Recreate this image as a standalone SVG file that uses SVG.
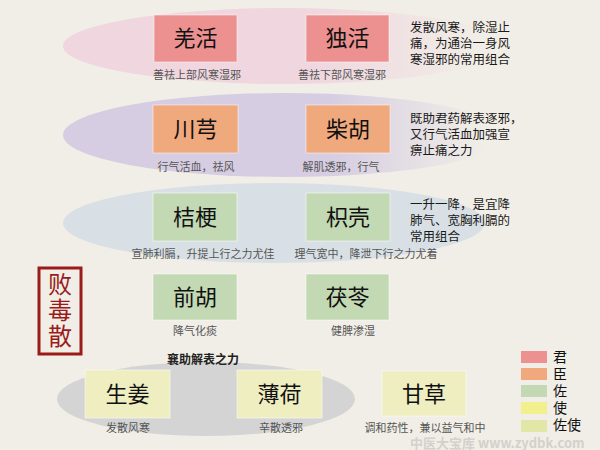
<svg xmlns="http://www.w3.org/2000/svg" width="600" height="450" viewBox="0 0 600 450">
<defs>
<linearGradient id="gPink" x1="0" y1="0" x2="1" y2="0">
<stop offset="0" stop-color="#efd6df"/>
<stop offset="0.55" stop-color="#efd6df"/>
<stop offset="0.95" stop-color="#efd6df" stop-opacity="0"/>
</linearGradient>
<linearGradient id="gLav" x1="0" y1="0" x2="1" y2="0">
<stop offset="0" stop-color="#d6cde2"/>
<stop offset="0.6" stop-color="#d6cde2"/>
<stop offset="0.95" stop-color="#d6cde2" stop-opacity="0"/>
</linearGradient>
<style>
.box{stroke:#ffffff;stroke-opacity:0.5;stroke-width:1}
.jun{fill:#ec9090}
.chen{fill:#f0a97c}
.zuo{fill:#c2d9b4}
.shi{fill:#f2f08c}
.zs{fill:#eeeec0}
.lbl{font-family:"Noto Sans CJK SC",sans-serif;font-size:22px;fill:#111;text-anchor:middle}
.sub{font-family:"Noto Sans CJK SC",sans-serif;font-size:11px;fill:#555;text-anchor:middle}
.desc{font-family:"Noto Sans CJK SC",sans-serif;font-size:12.5px;fill:#1a1a1a}
.leg{font-family:"Noto Sans CJK SC",sans-serif;font-size:14px;fill:#111}
</style>
</defs>
<rect width="600" height="450" fill="#f1eee7"/>
<g id="bands">
<ellipse cx="285" cy="46" rx="222" ry="38" fill="url(#gPink)"/>
<ellipse cx="285" cy="135" rx="222" ry="42" fill="url(#gLav)"/>
<ellipse cx="274" cy="223" rx="211" ry="40" fill="#d8e0e5"/>
<ellipse cx="206" cy="399" rx="149" ry="37" fill="#d4d4d4"/>
</g>
<g id="connectors"></g>
<g id="n-qianghuo"><rect class="box jun" x="154" y="15" width="83" height="47"/><text class="lbl" x="195.5" y="46">羌活</text><text class="sub" x="197" y="79">善祛上部风寒湿邪</text></g>
<g id="n-duhuo"><rect class="box jun" x="306" y="15" width="83" height="47"/><text class="lbl" x="347.5" y="46">独活</text><text class="sub" x="342" y="79">善祛下部风寒湿邪</text></g>
<g id="d1"><text class="desc"><tspan x="410" y="32">发散风寒，除湿止</tspan><tspan x="410" y="48">痛，为通治一身风</tspan><tspan x="410" y="64">寒湿邪的常用组合</tspan></text></g>
<g id="n-chuanxiong"><rect class="box chen" x="153" y="105" width="85" height="48"/><text class="lbl" x="195.5" y="137">川芎</text><text class="sub" x="196" y="171">行气活血，祛风</text></g>
<g id="n-chaihu"><rect class="box chen" x="306" y="105" width="84" height="48"/><text class="lbl" x="348" y="137">柴胡</text><text class="sub" x="341" y="171">解肌透邪，行气</text></g>
<g id="d2"><text class="desc"><tspan x="410" y="123">既助君药解表逐邪，</tspan><tspan x="410" y="139">又行气活血加强宣</tspan><tspan x="410" y="155">痹止痛之力</tspan></text></g>
<g id="n-jiegeng"><rect class="box zuo" x="153" y="193" width="84" height="48"/><text class="lbl" x="195" y="225">桔梗</text><text class="sub" x="203" y="258">宣肺利膈，升提上行之力尤佳</text></g>
<g id="n-zhiqiao"><rect class="box zuo" x="306" y="193" width="84" height="48"/><text class="lbl" x="348" y="225">枳壳</text><text class="sub" x="366" y="258">理气宽中，降泄下行之力尤着</text></g>
<g id="d3"><text class="desc"><tspan x="410" y="209">一升一降，是宜降</tspan><tspan x="410" y="225">肺气、宽胸利膈的</tspan><tspan x="410" y="241">常用组合</tspan></text></g>
<g id="title"><rect x="39" y="268" width="42" height="86" fill="none" stroke="#9b1b1b" stroke-width="3"/><text x="60" y="311" writing-mode="tb" glyph-orientation-vertical="0" font-family="Noto Sans CJK SC, sans-serif" font-size="24" letter-spacing="2" fill="#9b1b1b" text-anchor="middle">败毒散</text></g>
<g id="n-qianhu"><rect class="box zuo" x="153" y="274" width="84" height="46"/><text class="lbl" x="195" y="305">前胡</text><text class="sub" x="195" y="335">降气化痰</text></g>
<g id="n-fuling"><rect class="box zuo" x="306" y="274" width="83" height="46"/><text class="lbl" x="347.5" y="305">茯苓</text><text class="sub" x="353" y="335">健脾渗湿</text></g>
<text x="203" y="364" font-family="Noto Sans CJK SC, sans-serif" font-size="12" font-weight="bold" fill="#222" text-anchor="middle">襄助解表之力</text>
<g id="n-shengjiang"><rect class="box zs" x="85" y="370" width="85" height="48"/><text class="lbl" x="127.5" y="402">生姜</text><text class="sub" x="128" y="432">发散风寒</text></g>
<g id="n-bohe"><rect class="box zs" x="237" y="370" width="85" height="48"/><text class="lbl" x="279.5" y="402">薄荷</text><text class="sub" x="281" y="432">辛散透邪</text></g>
<g id="n-gancao"><rect class="box zs" x="382" y="371" width="84" height="45"/><text class="lbl" x="424" y="402">甘草</text><text class="sub" x="425" y="432">调和药性，兼以益气和中</text></g>
<g id="legend">
<rect class="jun" x="521" y="351" width="26" height="12"/><text class="leg" x="553" y="362">君</text>
<rect class="chen" x="521" y="368" width="26" height="12"/><text class="leg" x="553" y="379">臣</text>
<rect class="zuo" x="521" y="385" width="26" height="12"/><text class="leg" x="553" y="396">佐</text>
<rect class="shi" x="521" y="402" width="26" height="12"/><text class="leg" x="553" y="413">使</text>
<rect class="zs" x="521" y="420" width="26" height="12" style="fill:#e2e6a6"/><text class="leg" x="553" y="430">佐使</text>
</g>
<text x="410" y="448" font-family="Noto Sans CJK SC, sans-serif" font-size="13" font-weight="bold" fill="#d4d0cc">中医大宝库 www.zydbk.com</text>
</svg>
